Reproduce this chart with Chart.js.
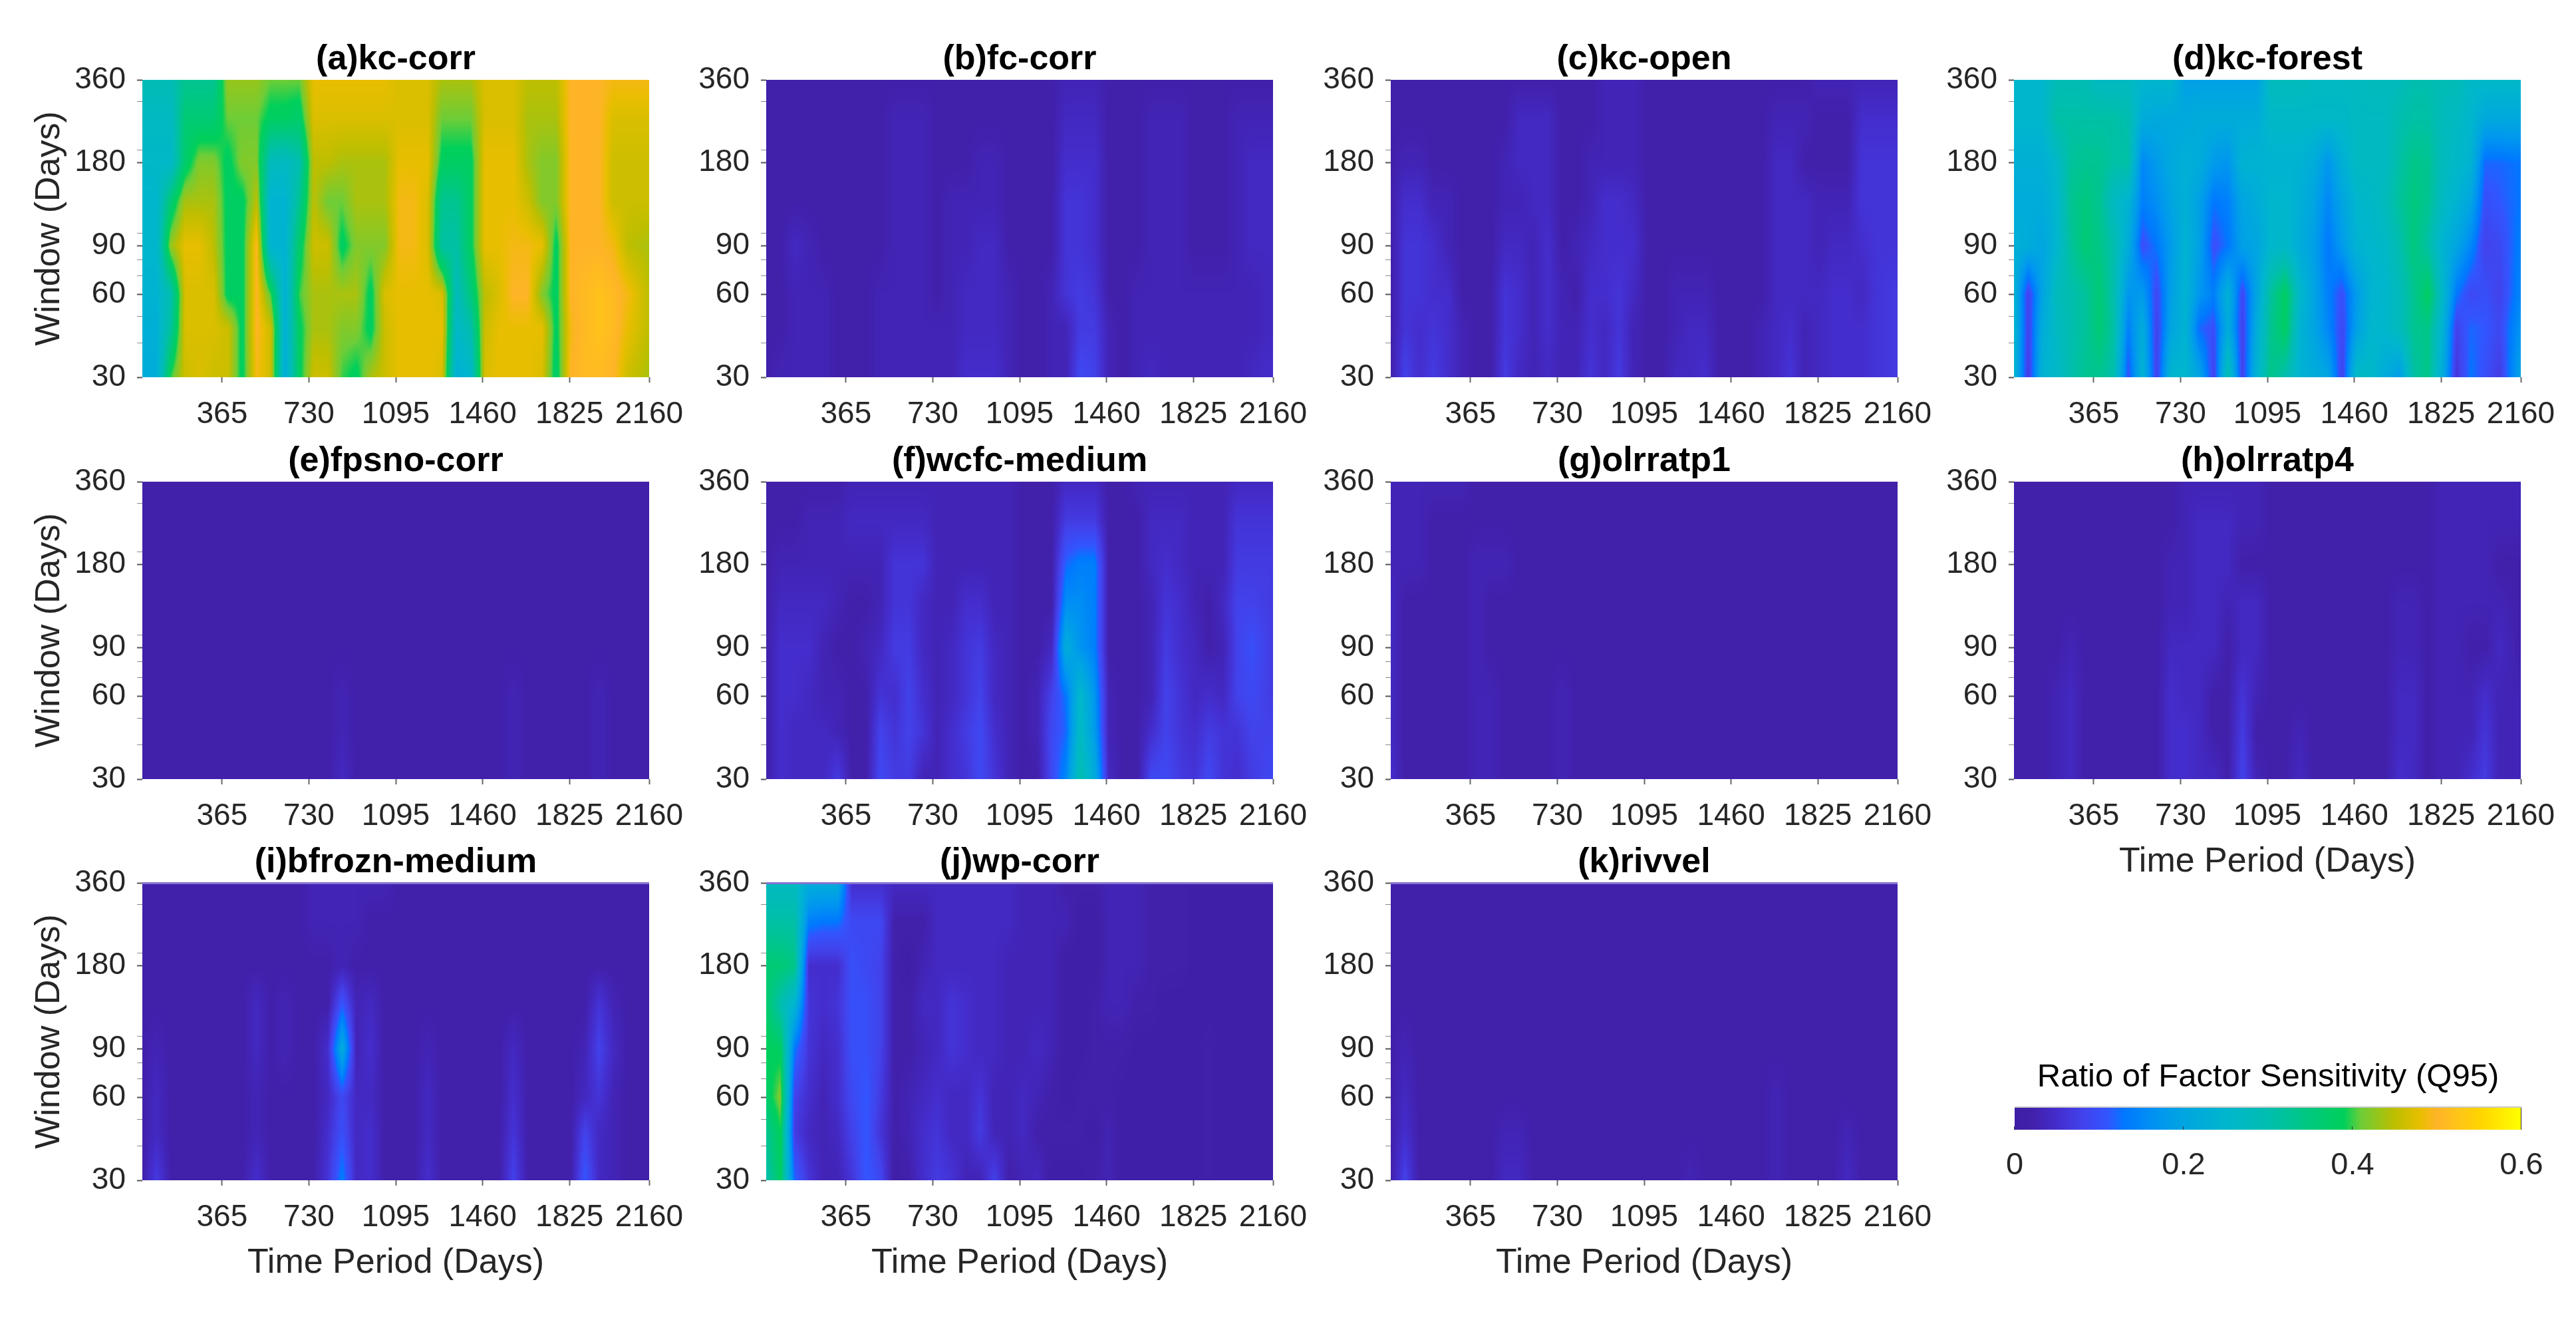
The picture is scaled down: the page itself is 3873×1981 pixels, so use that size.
<!DOCTYPE html>
<html lang="en">
<head>
<meta charset="UTF-8" />
<title>Ratio of Factor Sensitivity</title>
<script src="https://cdn.jsdelivr.net/npm/chart.js"></script>
<style>
  html, body { margin: 0; background: #fff; }
  #page { position: relative; width: 3873px; height: 1981px; overflow: hidden; }
  canvas { position: absolute; }
</style>
</head>
<body>
<div id="page"></div>
<script>
// x: time period (days), y: window (days), rows listed top to bottom
const timePeriods = [30,90,150,210,270,330,390,450,510,570,630,690,750,810,870,930,990,1050,1110,1170,1230,1290,1350,1410,1470,1530,1590,1650,1710,1770,1830,1890,1950,2010,2070,2160];
const windows = [360,260,180,130,90,60,45,30];
const xTicks = [365,730,1095,1460,1825,2160];
const yTicks = [360,300,200,180,100,90,80,70,60,50,40,30];
const yLabels = [360,180,90,60,30];
const colorbarTicks = [0,0.2,0.4,0.6];

// sensitivity ratio x 100, one row per window
const kcCorr = [
[29,29,29,33,33,33,43,43,43,41,41,41,48,48,48,48,48,48,47,47,47,44,44,44,47,47,47,45,45,45,50,50,50,49,49,49],
[27,27,27,36,36,36,41,41,41,38,38,37,47,47,47,47,47,47,47,47,47,41,41,41,47,47,47,44,44,44,50,50,50,47,47,47],
[26,26,26,37,42,42,38,42,42,28,27,30,45,45,44,44,44,44,48,48,48,38,38,38,48,48,48,44,42,42,50,50,50,46,46,46],
[25,25,36,44,44,44,38,38,45,24,24,33,45,41,41,44,44,44,49,49,47,33,33,38,48,48,48,46,42,42,50,50,50,46,46,46],
[25,25,43,48,48,45,38,38,50,24,24,37,46,46,38,42,42,42,49,49,47,31,31,38,48,48,49,49,48,38,50,50,50,49,45,44],
[24,24,30,47,47,47,38,38,50,40,23,40,44,44,44,44,38,47,48,48,48,47,28,35,45,47,50,50,42,38,50,51,52,51,49,45],
[23,23,32,47,47,47,46,38,50,46,23,38,44,44,42,42,38,46,48,48,48,48,26,30,46,48,48,48,48,38,49,51,52,51,48,45],
[22,22,40,46,47,46,46,38,49,46,22,38,46,46,40,38,44,46,48,48,48,47,23,25,47,48,48,48,47,37,50,51,51,50,46,44]];
const fcCorr = [
[2,2,2,2,2,2,2,2,2,2,2,2,2,2,2,2,2,2,2,2,2,3,3,3,2,2,2,2,2,2,2,2,2,2,2,2],
[2,2,2,2,2,2,2,2,2,3,3,3,2,2,2,2,2,2,2,2,2,4,4,4,2,2,2,3,3,3,2,2,2,3,3,3],
[2,2,2,2,2,2,2,2,2,3,3,3,2,2,2,3,3,2,2,2,2,5,5,5,2,2,2,3,3,3,2,2,2,3,4,4],
[2,2,2,2,2,2,2,2,2,3,3,3,2,3,3,3,3,2,2,2,2,6,6,5,2,2,2,3,3,3,2,2,2,3,4,4],
[2,2,4,3,2,2,2,2,2,3,3,3,2,3,3,4,4,2,2,2,2,6,6,5,2,2,2,3,3,3,2,2,2,3,4,4],
[2,2,3,3,3,2,2,2,3,3,3,3,2,3,4,4,4,3,2,2,3,6,7,6,2,2,3,3,3,3,3,3,3,3,3,4],
[2,2,3,3,3,2,2,2,3,3,3,3,3,3,4,4,4,3,2,2,3,3,7,7,3,2,3,3,3,3,3,3,3,3,3,4],
[2,3,3,3,3,2,2,2,3,3,3,3,3,3,5,5,5,3,2,2,3,3,9,8,3,2,3,4,3,3,3,3,3,3,4,5]];
const kcOpen = [
[2,2,2,2,2,2,2,2,2,2,2,2,2,2,2,3,3,3,2,2,2,2,2,2,2,2,2,2,2,2,3,3,3,3,3,3],
[2,2,2,2,2,2,2,2,2,4,4,4,2,2,2,3,3,3,2,2,2,2,2,2,2,2,2,3,3,3,2,2,2,5,5,5],
[2,3,3,2,2,2,2,2,3,4,4,4,2,2,3,3,3,3,2,2,2,2,2,2,2,2,2,4,4,2,2,2,2,6,6,6],
[2,5,5,3,3,2,2,2,3,3,4,4,2,2,3,5,5,4,2,2,2,2,2,2,2,2,2,4,4,4,3,3,3,6,6,6],
[2,6,6,5,3,2,2,2,4,4,3,5,2,3,4,5,5,5,2,2,2,2,2,2,2,2,2,4,4,4,3,4,4,5,6,6],
[2,6,6,5,5,2,2,2,6,5,3,5,3,2,5,5,6,4,2,2,3,3,3,2,2,2,2,4,4,4,4,5,5,4,6,7],
[2,6,5,6,5,3,2,2,6,5,3,5,3,3,5,4,6,3,2,2,3,4,4,2,2,2,3,4,5,3,4,5,5,5,6,7],
[2,8,5,7,5,3,2,2,7,4,3,4,3,3,6,4,7,3,2,2,4,4,5,2,2,2,3,4,6,3,4,5,5,5,6,7]];
const kcForest = [
[25,25,25,29,29,29,27,27,27,25,25,25,19,19,19,19,19,19,28,28,28,27,27,27,27,28,28,28,30,30,29,29,26,26,26,26],
[25,25,25,31,31,31,31,31,30,22,21,21,21,22,22,22,22,22,26,26,26,26,26,26,27,27,27,30,31,31,28,27,25,21,21,21],
[23,23,23,26,32,33,33,31,31,15,18,21,23,22,18,17,24,24,24,24,24,22,17,23,27,27,27,31,34,33,28,26,24,12,12,13],
[22,22,22,25,33,35,33,27,24,14,16,20,23,19,13,14,20,22,25,25,23,20,15,20,25,26,28,32,35,33,27,24,20,10,11,13],
[23,22,20,25,32,36,34,30,22,10,13,18,24,19,10,13,19,20,25,26,22,19,13,18,24,25,26,30,35,31,24,20,15,8,9,14],
[24,8,20,28,30,32,36,30,17,18,9,19,24,17,14,23,9,20,32,38,26,20,14,10,18,24,25,28,33,38,26,13,9,10,8,15],
[25,8,22,27,30,32,36,31,14,22,8,20,24,12,10,22,8,22,33,38,24,20,15,9,19,25,25,28,33,34,24,8,12,11,9,17],
[25,7,24,26,30,33,33,30,10,24,8,25,25,20,8,30,8,24,34,30,24,22,20,8,27,26,22,18,31,34,22,6,13,10,7,20]];
const fpsnoCorr = [
[2,2,2,2,2,2,2,2,2,2,2,2,2,2,2,2,2,2,2,2,2,2,2,2,2,2,2,2,2,2,2,2,2,2,2,2],
[2,2,2,2,2,2,2,2,2,2,2,2,2,2,2,2,2,2,2,2,2,2,2,2,2,2,2,2,2,2,2,2,2,2,2,2],
[2,2,2,2,2,2,2,2,2,2,2,2,2,2,2,2,2,2,2,2,2,2,2,2,2,2,2,2,2,2,2,2,2,2,2,2],
[2,2,2,2,2,2,2,2,2,2,2,2,2,2,2,2,2,2,2,2,2,2,2,2,2,2,2,2,2,2,2,2,2,2,2,2],
[2,2,2,2,2,2,2,2,2,2,2,2,2,2,2,2,2,2,2,2,2,2,2,2,2,2,2,2,2,2,2,2,2,2,2,2],
[2,2,2,2,2,2,2,2,2,2,2,2,2,2,3,2,2,2,2,2,2,2,2,2,2,2,3,2,2,2,2,2,3,2,2,2],
[2,2,2,2,2,2,2,2,2,2,2,2,2,2,3,2,2,2,2,2,2,2,2,2,2,2,3,2,2,2,2,2,3,2,2,2],
[2,2,2,2,2,2,2,2,2,2,2,2,2,2,4,2,2,2,2,2,2,2,2,2,2,2,3,2,2,2,2,2,3,2,2,2]];
const wcfcMedium = [
[2,2,2,2,2,2,3,3,3,3,3,3,3,3,3,3,3,3,2,2,2,4,4,4,2,2,3,3,3,3,3,3,3,4,4,4],
[2,2,2,3,3,3,4,4,4,4,4,4,3,3,3,3,3,3,2,2,2,7,7,7,2,2,2,4,4,4,3,3,3,6,6,6],
[2,3,3,3,3,3,3,3,3,6,6,6,3,3,3,3,3,3,2,2,2,12,14,14,2,2,2,4,5,4,3,3,3,7,7,7],
[2,4,4,4,4,3,2,2,3,6,6,4,3,3,5,5,3,3,2,2,2,16,16,14,2,2,2,3,6,5,3,2,4,8,8,7],
[2,5,5,5,3,2,2,3,4,7,7,4,3,4,6,7,4,3,2,2,4,22,17,14,2,2,2,3,7,5,4,2,3,8,10,7],
[2,5,5,4,3,3,2,2,6,5,8,5,3,4,6,8,4,3,2,3,8,13,26,17,3,2,2,3,8,6,4,5,4,8,9,7],
[2,5,4,4,4,3,2,2,8,6,8,6,3,5,7,9,5,3,2,3,9,12,27,18,3,2,2,5,8,6,5,7,6,6,8,8],
[2,5,4,4,4,7,2,2,9,7,7,3,3,5,6,9,6,3,2,2,9,15,30,22,4,2,2,9,9,7,6,9,6,5,7,9]];
const olrratp1 = [
[3,3,3,3,3,3,2,2,2,2,2,2,2,2,2,2,2,2,2,2,2,2,2,2,2,2,2,2,2,2,2,2,2,2,2,2],
[3,3,3,2,2,2,2,2,2,2,2,2,2,2,2,2,2,2,2,2,2,2,2,2,2,2,2,2,2,2,2,2,2,2,2,2],
[3,3,3,2,2,2,3,3,3,2,2,2,2,2,2,2,2,2,2,2,2,2,2,2,2,2,2,2,2,2,2,2,2,2,2,2],
[4,2,2,2,2,2,3,2,2,2,2,2,2,2,2,2,2,2,2,2,2,2,2,2,2,2,2,2,2,2,2,2,2,2,2,2],
[4,2,2,2,2,2,3,2,2,2,2,2,2,2,2,2,2,2,2,2,2,2,2,2,2,2,2,2,2,2,2,2,2,2,2,2],
[4,2,2,2,2,2,3,3,2,2,2,2,3,2,2,2,2,2,2,2,2,2,2,2,2,2,2,2,2,2,2,2,2,2,2,2],
[4,2,2,2,2,2,3,3,2,2,2,2,3,2,2,2,2,2,2,2,2,2,2,2,2,2,2,2,2,2,2,2,2,2,2,2],
[5,2,2,2,2,2,3,3,2,2,2,2,3,2,2,2,2,2,2,2,2,2,2,2,2,2,2,2,2,2,2,2,2,2,2,2]];
const olrratp4 = [
[2,2,2,2,2,2,2,2,2,2,2,2,3,3,3,3,3,3,2,2,2,2,2,2,2,2,2,2,2,2,3,3,3,3,3,3],
[2,2,2,2,2,2,2,2,2,2,2,2,3,4,4,4,3,3,2,2,2,2,2,2,2,2,2,2,2,2,3,3,3,3,3,3],
[2,2,2,2,2,2,2,2,2,2,2,3,3,4,4,4,2,2,2,2,2,2,2,2,2,2,2,2,2,2,3,3,3,3,2,2],
[2,2,2,2,2,2,2,2,2,2,2,3,3,4,4,3,4,4,2,2,2,2,2,2,2,2,2,3,3,2,3,3,3,3,3,2],
[2,2,2,2,3,2,2,2,2,2,2,4,4,4,4,2,4,4,2,2,2,2,2,2,2,2,2,3,3,2,3,3,2,2,4,2],
[2,2,2,3,4,2,2,2,2,2,2,5,4,4,2,2,6,3,2,2,2,2,2,2,2,2,2,4,4,2,3,3,3,5,3,3],
[2,2,2,3,4,2,2,2,2,2,2,5,5,4,2,2,7,2,2,2,3,2,2,2,2,2,2,4,4,2,3,3,3,6,3,3],
[2,2,2,3,4,2,2,2,2,2,2,5,5,4,4,2,8,3,2,2,4,2,2,2,2,2,2,5,4,2,3,3,5,7,3,3]];
const bfroznMedium = [
[2,2,2,2,2,2,2,2,2,2,2,2,3,3,3,3,3,3,2,2,2,2,2,2,2,2,2,2,2,2,2,2,2,2,2,2],
[2,2,2,2,2,2,2,2,2,2,2,2,3,3,3,3,2,2,2,2,2,2,2,2,2,2,2,2,2,2,2,2,2,2,2,2],
[2,2,2,2,2,2,2,2,2,2,2,2,2,2,3,2,2,2,2,2,2,2,2,2,2,2,2,2,2,2,2,2,2,2,2,2],
[2,2,2,2,2,2,2,2,4,2,3,2,2,2,11,3,4,2,2,2,2,2,2,2,2,2,2,2,2,2,2,2,6,3,2,2],
[2,3,2,2,2,2,2,2,4,2,3,2,2,5,22,3,5,2,2,2,3,2,2,2,2,2,4,2,2,2,2,3,8,4,2,2],
[2,4,2,2,2,2,2,2,3,2,2,2,2,4,9,4,4,2,2,2,4,2,2,2,2,2,5,2,2,2,2,4,6,3,2,2],
[2,4,2,2,2,2,2,2,3,2,2,2,2,5,10,4,5,2,2,2,4,2,2,2,2,2,6,2,2,2,2,8,4,3,2,2],
[2,7,2,2,2,2,2,2,5,2,2,2,2,6,14,4,5,2,2,2,5,2,2,2,2,2,8,2,2,2,2,11,4,3,2,2]];
const wpCorr = [
[27,27,27,22,22,22,5,5,5,4,4,4,4,4,4,4,4,4,3,3,3,2,2,2,3,3,3,2,2,2,1,1,1,1,1,1],
[31,31,31,14,13,13,9,9,9,2,2,2,4,4,4,4,4,4,3,3,3,3,1,1,3,3,3,2,2,2,1,1,1,1,1,1],
[36,36,34,5,5,5,10,9,8,2,1,3,4,4,4,4,4,3,3,3,3,1,1,1,3,3,3,2,2,2,1,1,1,1,1,1],
[37,30,24,6,5,6,10,10,8,2,2,4,4,6,5,4,4,3,3,3,3,1,1,2,3,3,2,2,1,1,1,1,1,1,1,1],
[39,38,13,6,4,5,10,10,8,2,2,3,4,6,5,4,4,3,3,4,3,1,1,2,2,2,1,1,1,1,1,2,1,1,1,1],
[37,42,8,5,3,5,9,11,7,2,3,4,5,4,4,6,3,3,4,3,2,1,2,2,2,1,1,1,1,1,1,2,1,1,1,1],
[33,39,7,4,3,4,8,11,6,2,3,5,6,4,4,7,3,3,4,2,2,2,2,1,3,1,1,1,1,1,1,2,1,1,1,1],
[30,38,12,6,3,3,6,11,9,1,2,5,7,6,3,3,8,2,3,4,1,1,1,2,3,1,1,1,1,1,1,2,1,1,1,1]];
const rivvel = [
[2,2,2,2,2,2,2,2,2,2,2,2,2,2,2,2,2,2,2,2,2,2,2,2,2,2,2,2,2,2,2,2,2,2,2,2],
[2,2,2,2,2,2,2,2,2,2,2,2,2,2,2,2,2,2,2,2,2,2,2,2,2,2,2,2,2,2,2,2,2,2,2,2],
[2,2,2,2,2,2,2,2,2,2,2,2,2,2,2,2,2,2,2,2,2,2,2,2,2,2,2,2,2,2,2,2,2,2,2,2],
[2,2,2,2,2,2,2,2,2,2,2,2,2,2,2,2,2,2,2,2,2,2,2,2,2,2,2,2,2,2,2,2,2,2,2,2],
[2,3,2,2,2,2,2,2,2,2,2,2,2,2,2,2,2,2,2,2,2,2,2,2,2,2,2,2,2,2,2,2,2,2,2,2],
[2,4,2,2,2,2,2,2,2,2,2,2,2,2,2,2,2,2,2,2,2,2,2,2,2,2,2,3,2,2,2,2,2,2,2,2],
[2,5,2,2,2,2,2,2,3,3,2,2,2,2,2,2,2,2,2,2,2,2,2,2,2,2,2,3,2,2,2,2,3,2,2,2],
[2,8,2,2,2,2,2,2,4,4,2,2,2,2,2,2,2,2,2,2,2,3,2,2,2,2,2,3,2,2,2,2,4,2,2,2]];

// colormap, colorbar values and the matching rgb
const colorLevels = [0,.02,.05,.08,.11,.13,.17,.2,.25,.3,.35,.39,.41,.45,.48,.5,.53,.55,.6];
const colorRgb = [[62,30,165],[65,32,170],[68,45,205],[66,66,235],[50,85,255],[0,120,255],[0,150,240],[0,165,225],[0,182,205],[0,190,175],[0,200,125],[0,208,90],[110,205,55],[190,190,0],[232,190,0],[255,180,40],[255,200,20],[255,212,0],[255,255,0]];

function colorFor(v) {
  let i = 0;
  while (i < colorLevels.length - 2 && v > colorLevels[i + 1]) i++;
  const f = Math.min(1, Math.max(0, (v - colorLevels[i]) / (colorLevels[i + 1] - colorLevels[i])));
  return colorRgb[i].map((c, n) => c + (colorRgb[i + 1][n] - c) * f);
}

// shades the plot area pixel by pixel, reading data positions back from the scales
function heatmapPlugin(grid, topEdge) {
  return {
    id: "heatmap",
    beforeDatasetsDraw(chart) {
      const { ctx, chartArea: a, scales } = chart;
      const w = Math.round(a.right - a.left), h = Math.round(a.bottom - a.top);
      const img = ctx.createImageData(w, h);
      const cols = [], rows = [];
      for (let px = 0; px < w; px++) {
        const t = scales.x.getValueForPixel(a.left + px + 0.5);
        let c = 0;
        while (c < timePeriods.length - 2 && t > timePeriods[c + 1]) c++;
        cols.push([c, Math.min(1, Math.max(0, (t - timePeriods[c]) / (timePeriods[c + 1] - timePeriods[c])))]);
      }
      for (let py = 0; py < h; py++) {
        const d = scales.y.getValueForPixel(a.top + py + 0.5);
        let r = 0;
        while (r < windows.length - 2 && d < windows[r + 1]) r++;
        rows.push([r, Math.min(1, Math.max(0, Math.log(windows[r] / d) / Math.log(windows[r] / windows[r + 1])))]);
      }
      let n = 0;
      rows.forEach(([r, fy]) => {
        cols.forEach(([c, fx]) => {
          const top = grid[r][c] * (1 - fx) + grid[r][c + 1] * fx;
          const bot = grid[r + 1][c] * (1 - fx) + grid[r + 1][c + 1] * fx;
          const rgb = colorFor((top * (1 - fy) + bot * fy) / 100);
          img.data[n++] = rgb[0];
          img.data[n++] = rgb[1];
          img.data[n++] = rgb[2];
          img.data[n++] = 255;
        });
      });
      ctx.putImageData(img, Math.round(a.left), Math.round(a.top));
      if (topEdge) {
        ctx.fillStyle = "#8572d2";
        ctx.fillRect(a.left, a.top - 1, w, 3);
      }
    }
  };
}

const page = document.getElementById("page");
const FONT = "'Liberation Sans', Arial, sans-serif";
Chart.defaults.font.family = FONT;
Chart.defaults.animation = false;

function addCanvas(width, height) {
  const c = document.createElement("canvas");
  c.width = width;
  c.height = height;
  c.style.width = width + "px";
  c.style.height = height + "px";
  page.appendChild(c);
  return c;
}

// moves the canvas and trims the padding so the plot area lands where it should
function snapPlot(chart, padding, left, top, width, height) {
  const a = chart.chartArea;
  padding.right += a.right - a.left - width;
  padding.bottom += a.bottom - a.top - height;
  chart.update();
  chart.canvas.style.left = left - chart.chartArea.left + "px";
  chart.canvas.style.top = top - chart.chartArea.top + "px";
}

function drawPanel(p) {
  const cells = [];
  windows.forEach((d, r) => timePeriods.forEach((t, c) => cells.push({ x: t, y: d, v: p.grid[r][c] / 100 })));
  // the right padding has to stay above the x axis label overhang or the plot shrinks
  const padding = { right: 100, bottom: 0 };
  const chart = new Chart(addCanvas(1076, 692), {
    type: "scatter",
    data: { datasets: [{ label: p.title, data: cells, pointRadius: 0, showLine: false }] },
    options: {
      responsive: false,
      devicePixelRatio: 1,
      layout: { autoPadding: false, padding },
      plugins: {
        legend: { display: false },
        tooltip: { enabled: false },
        title: {
          display: true, text: p.title, color: "#000", fullSize: false,
          font: { size: 52, weight: "bold", lineHeight: 1 },
          padding: { top: 34, bottom: 4 }
        }
      },
      scales: {
        x: {
          type: "linear", min: 30, max: 2160,
          afterBuildTicks: s => { s.ticks = xTicks.map(v => ({ value: v })); },
          afterFit: s => { s.height = 155; },
          grid: { drawOnChartArea: false, tickLength: 8, tickColor: "#666", tickWidth: 2 },
          border: { display: false },
          ticks: {
            autoSkip: false, maxRotation: 0, padding: 25, color: "#262626", font: { size: 46, lineHeight: 1 },
            callback: v => String(v)
          },
          title: {
            display: !!p.xTitle, text: "Time Period (Days)", color: "#262626",
            font: { size: 52, lineHeight: 1 }, padding: { top: 0, bottom: 4 }
          }
        },
        y: {
          type: "logarithmic", min: 30, max: 360,
          afterBuildTicks: s => { s.ticks = yTicks.map(v => ({ value: v, major: yLabels.includes(v) })); },
          afterFit: s => { s.width = 214; },
          grid: {
            drawOnChartArea: false, tickLength: 8,
            tickColor: c => (c.tick && c.tick.major ? "#555" : "#888"),
            tickWidth: c => (c.tick && c.tick.major ? 2 : 1)
          },
          border: { display: false },
          ticks: {
            autoSkip: false, padding: 17, color: "#262626", font: { size: 46, lineHeight: 1 },
            callback: v => (yLabels.includes(v) ? String(v) : "")
          },
          title: {
            display: !!p.yTitle, text: "Window (Days)", color: "#262626",
            font: { size: 52, lineHeight: 1 }, padding: { top: 49, bottom: 0 }
          }
        }
      }
    },
    plugins: [heatmapPlugin(p.grid, p.topEdge)]
  });
  snapPlot(chart, padding, p.left, p.top, 762, 447);
}

const colLeft = [214, 1152, 2091, 3028];
const rowTop = [120, 724, 1327];

drawPanel({ title: "(a)kc-corr", grid: kcCorr, left: colLeft[0], top: rowTop[0], yTitle: true });
drawPanel({ title: "(b)fc-corr", grid: fcCorr, left: colLeft[1], top: rowTop[0] });
drawPanel({ title: "(c)kc-open", grid: kcOpen, left: colLeft[2], top: rowTop[0] });
drawPanel({ title: "(d)kc-forest", grid: kcForest, left: colLeft[3], top: rowTop[0] });
drawPanel({ title: "(e)fpsno-corr", grid: fpsnoCorr, left: colLeft[0], top: rowTop[1], yTitle: true });
drawPanel({ title: "(f)wcfc-medium", grid: wcfcMedium, left: colLeft[1], top: rowTop[1] });
drawPanel({ title: "(g)olrratp1", grid: olrratp1, left: colLeft[2], top: rowTop[1] });
drawPanel({ title: "(h)olrratp4", grid: olrratp4, left: colLeft[3], top: rowTop[1], xTitle: true });
drawPanel({ title: "(i)bfrozn-medium", grid: bfroznMedium, left: colLeft[0], top: rowTop[2], yTitle: true, xTitle: true, topEdge: true });
drawPanel({ title: "(j)wp-corr", grid: wpCorr, left: colLeft[1], top: rowTop[2], xTitle: true, topEdge: true });
drawPanel({ title: "(k)rivvel", grid: rivvel, left: colLeft[2], top: rowTop[2], xTitle: true, topEdge: true });

// colorbar
const barPadding = { left: 79, right: 79, bottom: 0 };
const colorbar = new Chart(addCanvas(920, 230), {
  type: "scatter",
  data: { datasets: [{ label: "Ratio of Factor Sensitivity (Q95)", data: colorLevels.map(v => ({ x: v, y: 0.5 })), pointRadius: 0 }] },
  options: {
    responsive: false,
    devicePixelRatio: 1,
    layout: { autoPadding: false, padding: barPadding },
    plugins: {
      legend: { display: false },
      tooltip: { enabled: false },
      title: {
        display: true, text: "Ratio of Factor Sensitivity (Q95)", color: "#000", fullSize: false,
        font: { size: 49, weight: "normal", lineHeight: 1 }, padding: { top: 35, bottom: 21 }
      }
    },
    scales: {
      x: {
        type: "linear", min: 0, max: 0.6,
        afterBuildTicks: s => { s.ticks = colorbarTicks.map(v => ({ value: v })); },
        afterFit: s => { s.height = 92; },
        grid: { display: false },
        border: { display: false },
        ticks: { autoSkip: false, maxRotation: 0, padding: 23, color: "#262626", font: { size: 47, lineHeight: 1 }, callback: v => String(v) }
      },
      y: { type: "linear", min: 0, max: 1, display: false }
    }
  },
  plugins: [{
    id: "colorbar",
    beforeDatasetsDraw(chart) {
      const { ctx, chartArea: a, scales } = chart;
      for (let px = Math.round(a.left); px < a.right; px++) {
        const rgb = colorFor(scales.x.getValueForPixel(px + 0.5));
        ctx.fillStyle = `rgb(${rgb[0]},${rgb[1]},${rgb[2]})`;
        ctx.fillRect(px, a.top, 1, a.bottom - a.top);
      }
      ctx.fillStyle = "#c8c8c8";
      ctx.fillRect(a.left, a.top - 2, a.right - a.left, 2);
      ctx.fillStyle = "#333";
      colorbarTicks.forEach(v => ctx.fillRect(scales.x.getPixelForValue(v) - 1, a.bottom - 5, 1, 5));
      ctx.fillRect(a.right - 1, a.top, 1, a.bottom - a.top);
    }
  }]
});
snapPlot(colorbar, barPadding, 3029, 1665, 762, 33);
</script>
</body>
</html>
